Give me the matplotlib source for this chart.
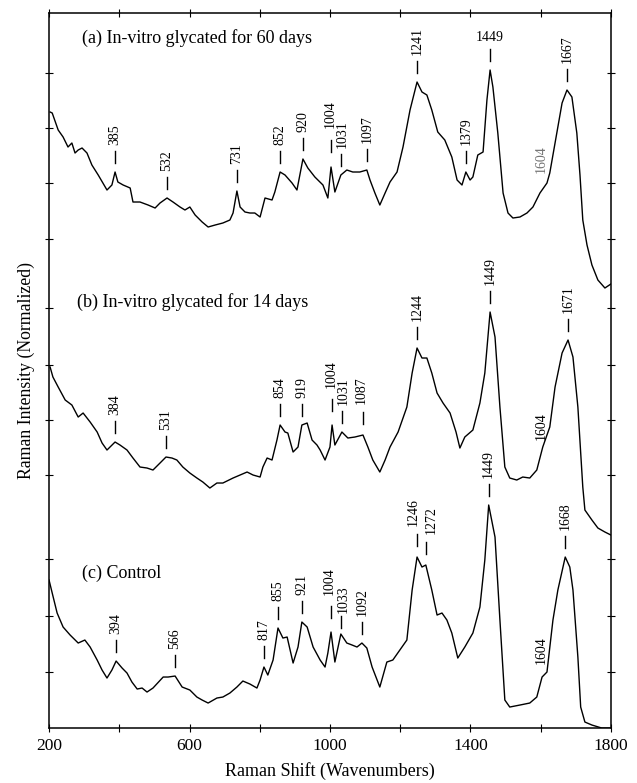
import matplotlib
matplotlib.use("Agg")
import matplotlib.pyplot as plt
import numpy as np

plt.rcParams['font.family'] = ['Liberation Serif', 'DejaVu Serif']

# Raman shift (cm-1) and stacked intensity (arbitrary units, offsets included)
wn_a = [203, 209, 226, 240, 254, 265, 274, 283, 294, 308, 322, 340, 365, 379, 388, 396, 411, 431,
        439, 459, 482, 502, 516, 536, 553, 573, 587, 601, 616, 636, 653, 673, 695, 715, 724, 735,
        744, 758, 772, 786, 801, 815, 835, 843, 858, 872, 892, 906, 923, 937, 957, 980, 994, 1003,
        1014, 1031, 1048, 1065, 1085, 1105, 1114, 1128, 1142, 1157, 1171, 1191, 1208, 1228, 1248,
        1262, 1276, 1290, 1307, 1327, 1347, 1362, 1376, 1387, 1399, 1407, 1421, 1436, 1447, 1456,
        1464, 1478, 1493, 1507, 1521, 1541, 1561, 1578, 1598, 1618, 1626, 1646, 1661, 1675, 1689,
        1703, 1712, 1720, 1732, 1746, 1763, 1783, 1800]
int_a = [616, 615, 598, 591, 581, 585, 575, 578, 580, 575, 563, 553, 538, 543, 556, 546, 543, 540,
         526, 526, 523, 520, 525, 530, 526, 521, 518, 521, 513, 506, 501, 503, 505, 508, 515, 537,
         521, 516, 515, 515, 511, 530, 528, 536, 556, 553, 545, 538, 569, 560, 551, 543, 530, 561,
         536, 553, 558, 556, 556, 558, 548, 535, 523, 535, 546, 556, 581, 618, 646,
         636, 633, 618, 596, 588, 571, 548, 543, 556, 548, 551, 573, 576, 628, 658,
         641, 595, 535, 515, 510, 511, 515, 521, 535, 545, 555, 595, 625, 638, 631,
         595, 553, 508, 483, 463, 448, 440, 444]

wn_b = [203, 211, 226, 246, 265, 283, 297, 317, 337, 351, 365, 388, 402, 422, 439, 459, 479, 496,
        516, 533, 550, 564, 581, 601, 621, 638, 658, 678, 695, 724, 744, 764, 781, 801, 809, 821,
        835, 849, 858, 872, 880, 895, 909, 920, 935, 949, 963, 972, 986, 1000, 1006, 1014, 1034,
        1051, 1071, 1094, 1108, 1122, 1142, 1157, 1171, 1194, 1219, 1234, 1248, 1262, 1276, 1290,
        1305, 1322, 1342, 1359, 1370, 1384, 1407, 1427, 1441, 1456, 1470, 1484, 1498, 1512, 1532,
        1549, 1569, 1589, 1606, 1626, 1641, 1661, 1678, 1692, 1706, 1720, 1726, 1746, 1763, 1783,
        1800]
int_b = [361, 351, 341, 328, 323, 311, 315, 306, 296, 285, 278, 286, 283, 278, 270, 261, 260, 258,
         265, 271, 270, 268, 261, 255, 250, 246, 240, 245, 245, 250, 253, 256, 253, 251, 261, 270,
         268, 288, 303, 296, 295, 276, 281, 303, 305, 288, 283, 278, 268, 281, 303, 283, 296,
         290, 291, 293, 281, 268, 256, 268, 281, 296, 321, 355, 380, 370, 370, 355,
         335, 325, 315, 296, 280, 291, 298, 325, 355, 416, 391, 321, 261, 250, 248,
         251, 250, 258, 281, 301, 341, 375, 388, 371, 321, 241, 218, 208, 200, 196,
         193]

wn_c = [200, 209, 223, 240, 260, 283, 302, 317, 337, 351, 365, 379, 391, 408, 422, 436, 451, 465,
        479, 496, 525, 539, 559, 579, 601, 621, 636, 653, 678, 695, 715, 735, 752, 772, 792, 801,
        812, 823, 838, 852, 866, 878, 895, 909, 920, 935, 952, 972, 986, 994, 1003, 1014, 1031,
        1048, 1063, 1077, 1091, 1105, 1120, 1142, 1162, 1179, 1199, 1219, 1234, 1248, 1262, 1273,
        1290, 1305, 1319, 1333, 1347, 1364, 1384, 1407, 1427, 1441, 1452, 1470, 1484, 1498, 1512,
        1541, 1569, 1589, 1604, 1618, 1635, 1649, 1670, 1683, 1692, 1706, 1714, 1726, 1746, 1774,
        1800]
int_c = [148, 135, 115, 101, 93, 85, 88, 81, 68, 58, 50, 58, 67, 60, 55, 46, 39, 40,
         36, 40, 51, 51, 52, 41, 38, 31, 28, 25, 30, 31, 35, 41, 47, 44, 40, 48,
         61, 53, 68, 100, 90, 91, 65, 81, 106, 101, 81, 68, 61, 75, 96, 66, 94,
         85, 83, 81, 85, 80, 61, 41, 66, 68, 78, 88, 138, 171, 161, 163,
         138, 113, 115, 108, 95, 70, 81, 95, 121, 168, 223, 191, 108, 28, 21,
         23, 25, 31, 51, 56, 108, 138, 171, 161, 138, 71, 21, 6, 3, 0,
         0]

peaks_a = ['385', '532', '731', '852', '920', '1004', '1031', '1097', '1241', '1379', '1667']
peaks_b = ['384', '531', '854', '919', '1004', '1031', '1087', '1244', '1449', '1671']
peaks_c = ['394', '566', '817', '855', '921', '1004', '1033', '1092', '1246', '1272', '1449', '1668']

titles = ['(a) In-vitro glycated for 60 days', '(b) In-vitro glycated for 14 days', '(c) Control']

# hand placement tweaks for crowded labels: (text shift in cm-1, lift)
tweaks = {
    ('a', '1004'): (-3, 12), ('a', '1031'): (4, 0),
    ('b', '1004'): (-3, 10), ('b', '1031'): (4, 0), ('b', '1087'): (-4, 4),
    ('c', '1004'): (-4, 10), ('c', '1033'): (6, -6),
    ('c', '1246'): (-11, 4), ('c', '1272'): (14, 4),
}

fig = plt.figure(figsize=(6.37, 7.83), dpi=100)
ax = fig.add_axes([0.077, 0.0702, 0.882, 0.9132])


def peak_pos(wn, inten, v, win=12):
    wn = np.asarray(wn)
    inten = np.asarray(inten)
    m = (wn >= v - win) & (wn <= v + win)
    if not m.any():
        return v, np.interp(v, wn, inten)
    i = np.argmax(np.where(m, inten, -1))
    return wn[i], inten[i]


def label_peaks(key, wn, inten, labels):
    for lab in labels:
        x, y = peak_pos(wn, inten, float(lab))
        dx, lift = tweaks.get((key, lab), (0, 0))
        ax.plot([x, x], [y + 9 + lift * 0.5, y + 21 + lift * 0.5], color='k', lw=1.0)
        ax.text(x + dx, y + 27 + lift, lab, rotation=90, ha='center', va='bottom', fontsize=10)


for key, wn, inten, labs in [('a', wn_a, int_a, peaks_a), ('b', wn_b, int_b, peaks_b),
                             ('c', wn_c, int_c, peaks_c)]:
    ax.plot(wn, inten, color='k', lw=1.0)
    label_peaks(key, wn, inten, labs)

# 1449 of spectrum (a) is written horizontally
x, y = peak_pos(wn_a, int_a, 1449)
ax.plot([x, x], [y + 9, y + 21], color='k', lw=1.0)
ax.text(x, y + 26, '1449', ha='center', va='bottom', fontsize=10)

# faint 1604 shoulders, no marker line
for wn, inten, dy, col in [(wn_a, int_a, 18, '0.45'), (wn_b, int_b, 12, 'k'), (wn_c, int_c, 16, 'k')]:
    ax.text(1602, np.interp(1602, wn, inten) + dy, '1604', rotation=90,
            ha='center', va='bottom', fontsize=10, color=col)

ax.text(294, 690, titles[0], fontsize=13, va='center')
ax.text(280, 426, titles[1], fontsize=13, va='center')
ax.text(294, 155, titles[2], fontsize=13, va='center')

ax.set_xlim(200, 1800)
ax.set_ylim(0, 715)
ax.set_xticks([200, 600, 1000, 1400, 1800])
ax.set_xticks([400, 800, 1200, 1600], minor=True)
ax.set_yticks([56, 112, 169, 253, 308, 363, 420, 489, 545, 600, 655])
ax.set_yticklabels([])
ax.tick_params(which='both', direction='inout', length=6, width=0.8,
               top=True, right=True, labelsize=12.5, pad=4)
for s in ax.spines.values():
    s.set_linewidth(1.1)

ax.set_xlabel('Raman Shift (Wavenumbers)', fontsize=13, labelpad=6)
ax.set_ylabel('Raman Intensity (Normalized)', fontsize=12.8, labelpad=3)

fig.savefig('out.png', dpi=100)
